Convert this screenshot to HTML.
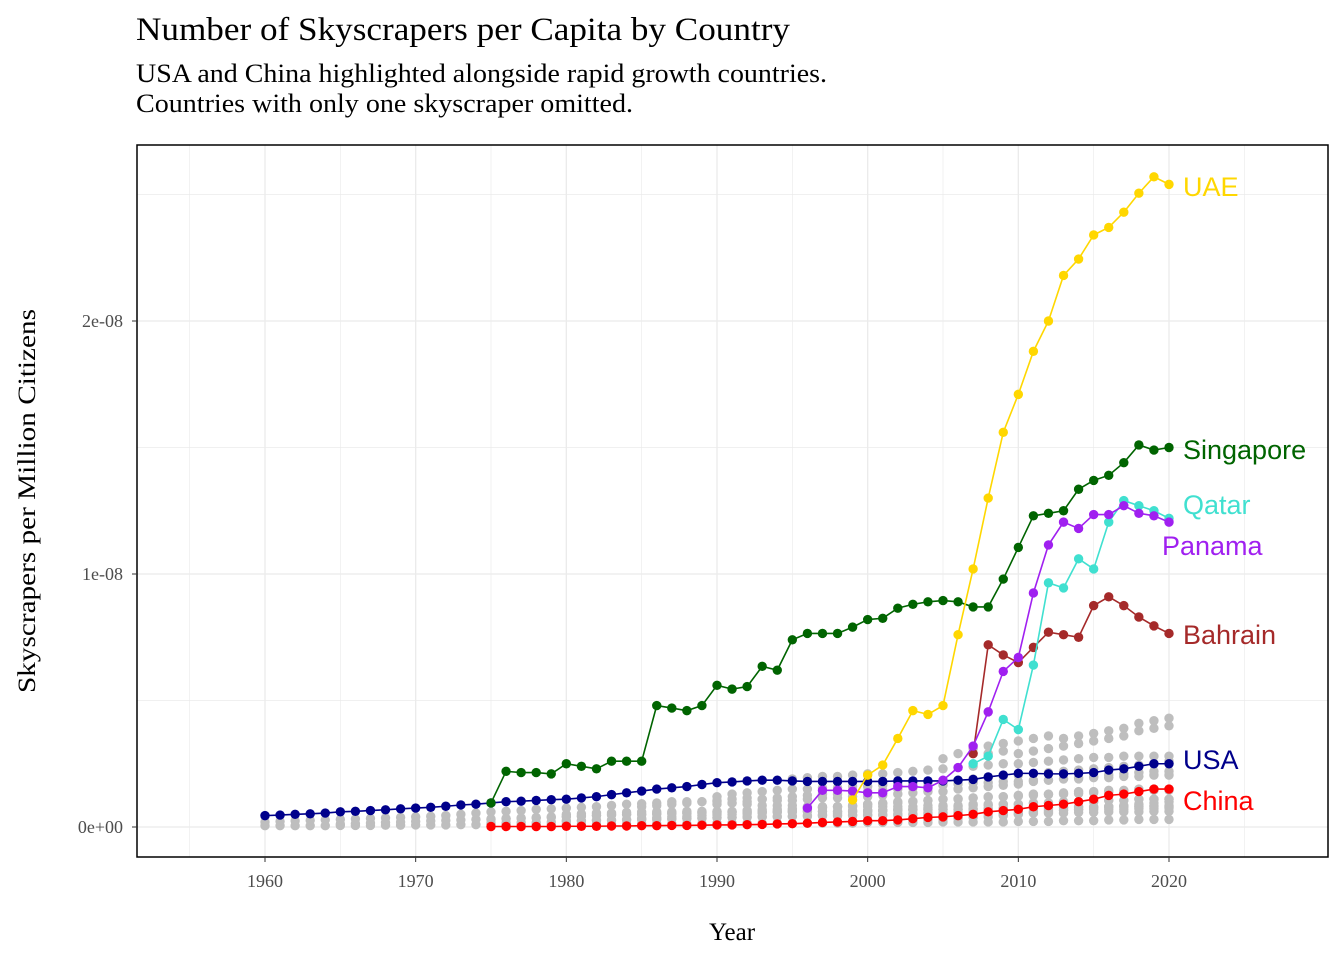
<!DOCTYPE html>
<html><head><meta charset="utf-8"><style>
body{margin:0;background:#fff;}
svg{display:block;}
</style></head><body>
<svg id="chart" width="1344" height="960" xmlns="http://www.w3.org/2000/svg">
<text x="136" y="40" font-family="Liberation Serif, serif" font-size="33" textLength="654" lengthAdjust="spacingAndGlyphs" fill="#000">Number of Skyscrapers per Capita by Country</text>
<text x="136" y="82" font-family="Liberation Serif, serif" font-size="26" textLength="691" lengthAdjust="spacingAndGlyphs" fill="#000">USA and China highlighted alongside rapid growth countries.</text>
<text x="136" y="112" font-family="Liberation Serif, serif" font-size="26" textLength="497" lengthAdjust="spacingAndGlyphs" fill="#000">Countries with only one skyscraper omitted.</text>
<g id="grid"></g>
<g id="gray"></g>
<g id="series"></g>
<rect x="137" y="145" width="1191" height="712" fill="none" stroke="#000" stroke-width="1.5"/>
<g id="axes"></g>
<text x="732" y="940" text-anchor="middle" font-family="Liberation Serif, serif" font-size="25">Year</text>
<text transform="translate(35,501) rotate(-90)" text-anchor="middle" font-family="Liberation Serif, serif" font-size="25" textLength="384" lengthAdjust="spacingAndGlyphs">Skyscrapers per Million Citizens</text>
</svg>
<script>
const xTicks=[1960,1970,1980,1990,2000,2010,2020];
const yTicks=[0,10,20];
const yTickLabels=["0e+00","1e-08","2e-08"];
const usaStart=1960;
const usa=[0.45,0.47,0.5,0.52,0.55,0.6,0.62,0.65,0.68,0.72,0.75,0.78,0.82,0.87,0.9,0.95,1.0,1.02,1.05,1.08,1.1,1.15,1.2,1.28,1.35,1.42,1.5,1.55,1.6,1.68,1.75,1.78,1.82,1.85,1.85,1.82,1.8,1.8,1.8,1.8,1.8,1.8,1.82,1.82,1.82,1.82,1.85,1.88,1.98,2.05,2.12,2.12,2.1,2.1,2.12,2.15,2.25,2.3,2.4,2.5,2.5];
const chinaStart=1975;
const china=[0.02,0.02,0.02,0.02,0.02,0.03,0.03,0.03,0.04,0.04,0.05,0.05,0.06,0.06,0.07,0.08,0.08,0.09,0.1,0.12,0.13,0.15,0.18,0.2,0.22,0.25,0.25,0.28,0.33,0.38,0.4,0.45,0.5,0.6,0.65,0.7,0.8,0.85,0.9,1.0,1.1,1.25,1.3,1.4,1.5,1.5];
const singaporeStart=1975;
const singapore=[0.95,2.2,2.15,2.15,2.1,2.5,2.4,2.3,2.6,2.6,2.6,4.8,4.7,4.6,4.8,5.6,5.45,5.55,6.35,6.2,7.4,7.65,7.65,7.65,7.9,8.2,8.25,8.65,8.8,8.9,8.95,8.9,8.7,8.7,9.8,11.05,12.3,12.4,12.5,13.35,13.7,13.9,14.4,15.1,14.9,15.0];
const uaeStart=1999;
const uae=[1.07,2.05,2.45,3.5,4.6,4.45,4.8,7.6,10.2,13.0,15.6,17.1,18.8,20.0,21.8,22.45,23.4,23.7,24.3,25.05,25.7,25.4];
const panamaStart=1996;
const panama=[0.75,1.45,1.45,1.42,1.35,1.35,1.6,1.6,1.55,1.85,2.35,3.2,4.55,6.15,6.7,9.25,11.15,12.05,11.8,12.35,12.35,12.7,12.4,12.3,12.05];
const bahrainStart=2007;
const bahrain=[2.9,7.2,6.8,6.5,7.1,7.7,7.6,7.5,8.75,9.1,8.75,8.3,7.95,7.65];
const qatarStart=2007;
const qatar=[2.5,2.8,4.25,3.85,6.4,9.65,9.45,10.6,10.2,12.05,12.9,12.7,12.5,12.2];
const grayStarts=[1960,1960,1975,1980,1985,1990,1995,1997,2005,2008,1965,1975,1985,1990,2000,1980];
const gray1=[0.05,0.05,0.05,0.05,0.05,0.06,0.06,0.06,0.07,0.07,0.08,0.08,0.08,0.09,0.09,0.1,0.1,0.1,0.1,0.1,0.12,0.12,0.12,0.12,0.12,0.13,0.13,0.13,0.13,0.13,0.15,0.15,0.15,0.15,0.15,0.15,0.15,0.15,0.15,0.15,0.18,0.18,0.18,0.18,0.18,0.2,0.2,0.2,0.2,0.2,0.22,0.22,0.22,0.25,0.25,0.25,0.28,0.28,0.3,0.3,0.3];
const gray2=[0.2,0.22,0.24,0.26,0.28,0.3,0.32,0.34,0.36,0.38,0.4,0.42,0.45,0.5,0.55,0.6,0.62,0.65,0.7,0.72,0.75,0.78,0.8,0.85,0.9,0.92,0.95,1.0,1.0,1.0,1.0,0.95,0.9,0.85,0.85,0.85,0.8,0.8,0.8,0.8,0.8,0.8,0.8,0.8,0.85,0.85,0.85,0.9,0.9,0.9,0.9,0.95,0.95,1.0,1.0,1.0,1.05,1.05,1.1,1.1,1.1];
const gray3=[0.3,0.32,0.34,0.36,0.38,0.4,0.42,0.45,0.48,0.5,0.5,0.52,0.55,0.55,0.58,0.6,0.62,0.65,0.68,0.7,0.72,0.75,0.78,0.8,0.85,0.9,0.92,0.95,1.0,1.05,1.1,1.1,1.15,1.2,1.2,1.25,1.3,1.3,1.35,1.4,1.4,1.45,1.45,1.5,1.5,1.5];
const gray4=[0.5,0.52,0.55,0.55,0.58,0.6,0.6,0.6,0.62,0.62,0.62,0.6,0.6,0.6,0.6,0.6,0.62,0.62,0.62,0.62,0.65,0.65,0.65,0.68,0.68,0.7,0.7,0.7,0.72,0.72,0.75,0.75,0.75,0.75,0.78,0.78,0.8,0.8,0.8,0.8,0.8];
const gray5=[0.8,0.85,0.9,0.95,1.0,1.05,1.1,1.15,1.1,1.05,1.05,1.1,1.15,1.15,1.2,1.2,1.25,1.3,1.35,1.4,1.4,1.5,1.55,1.6,1.65,1.7,1.8,1.85,1.9,1.95,2.0,2.05,2.1,2.15,2.2,2.2];
const gray6=[1.2,1.3,1.35,1.4,1.45,1.5,1.5,1.55,1.55,1.6,1.6,1.65,1.7,1.7,1.75,1.8,1.85,1.9,1.95,2.0,2.05,2.1,2.15,2.2,2.25,2.3,2.35,2.4,2.45,2.5,2.6];
const gray7=[1.9,1.95,2.0,2.0,2.05,2.1,2.1,2.15,2.2,2.25,2.3,2.35,2.4,2.45,2.5,2.5,2.55,2.6,2.65,2.7,2.75,2.75,2.8,2.8,2.8,2.8];
const gray8=[0.5,0.55,0.6,0.6,0.65,0.7,0.7,0.75,0.8,0.8,0.85,0.85,0.9,0.9,0.95,0.95,1.0,1.0,1.0,1.05,1.05,1.1,1.1,1.1];
const gray9=[2.7,2.9,3.1,3.2,3.3,3.4,3.5,3.6,3.5,3.6,3.7,3.8,3.9,4.1,4.2,4.3];
const gray10=[2.9,3.0,2.9,3.0,3.1,3.2,3.3,3.4,3.5,3.6,3.8,3.9,4.0];
const gray11=[0.12,0.14,0.16,0.18,0.2,0.22,0.24,0.26,0.28,0.3,0.32,0.34,0.36,0.38,0.4,0.42,0.44,0.46,0.48,0.5,0.5,0.52,0.52,0.55,0.55,0.55,0.58,0.58,0.6,0.6,0.6,0.62,0.62,0.62,0.65,0.65,0.65,0.68,0.68,0.7,0.7,0.7,0.72,0.72,0.75,0.75,0.75,0.78,0.78,0.8,0.8,0.8,0.82,0.82,0.85,0.85];
const gray12=[0.15,0.16,0.17,0.18,0.2,0.22,0.24,0.25,0.26,0.28,0.3,0.3,0.32,0.33,0.35,0.36,0.38,0.38,0.4,0.4,0.42,0.42,0.44,0.44,0.45,0.45,0.46,0.46,0.48,0.48,0.5,0.5,0.5,0.52,0.52,0.52,0.55,0.55,0.55,0.58,0.58,0.6,0.6,0.6,0.62,0.62];
const gray13=[0.35,0.38,0.4,0.42,0.45,0.48,0.5,0.52,0.55,0.6,0.65,0.7,0.75,0.8,0.85,0.9,0.95,1.0,1.02,1.05,1.1,1.12,1.15,1.18,1.2,1.22,1.25,1.28,1.3,1.32,1.35,1.38,1.4,1.42,1.45,1.45];
const gray14=[0.9,0.95,1.0,1.1,1.15,1.2,1.25,1.3,1.3,1.35,1.4,1.45,1.5,1.55,1.6,1.65,1.7,1.75,1.75,1.8,1.8,1.85,1.85,1.9,1.9,1.95,1.95,2.0,2.0,2.05,2.05];
const gray15=[0.2,0.22,0.25,0.28,0.3,0.32,0.35,0.38,0.4,0.45,0.5,0.55,0.6,0.65,0.7,0.75,0.8,0.85,0.9,0.95,1.0];
const gray16=[0.25,0.25,0.28,0.28,0.3,0.3,0.32,0.32,0.35,0.35,0.38,0.38,0.4,0.4,0.42,0.42,0.45,0.45,0.48,0.48,0.5,0.5,0.52,0.52,0.55,0.55,0.58,0.58,0.6,0.6,0.62,0.62,0.65,0.65,0.68,0.68,0.7,0.7,0.72,0.72,0.75];
const grays=[gray1,gray2,gray3,gray4,gray5,gray6,gray7,gray8,gray9,gray10,gray11,gray12,gray13,gray14,gray15,gray16];

const NS="http://www.w3.org/2000/svg";
const X=yr=>265+(yr-1960)*(1169-265)/60;
const Y=v=>827-v*25.3;
function mk(tag,attrs,parent){const e=document.createElementNS(NS,tag);for(const k in attrs)e.setAttribute(k,attrs[k]);parent.appendChild(e);return e;}
const grid=document.getElementById('grid');
for(let yr=1955;yr<=2025;yr+=5){const g=mk('line',{x1:X(yr),x2:X(yr),y1:145,y2:857,stroke:'#ebebeb','stroke-width':yr%10===0?1.3:0.7},grid);

}
for(let v=0;v<=25;v+=5){const g=mk('line',{x1:137,x2:1328,y1:Y(v),y2:Y(v),stroke:'#ebebeb','stroke-width':v%10===0?1.3:0.7},grid);

}
const gg=document.getElementById('gray');
grays.forEach((arr,i)=>{arr.forEach((v,j)=>{const c=mk('circle',{cx:X(grayStarts[i]+j),cy:Y(v),r:4.7,fill:'#bebebe'},gg);

});});
const sg=document.getElementById('series');
const series=[
 ['usa',usaStart,usa,'#00008b','USA',760],
 ['china',chinaStart,china,'#ff0000','China',801],
 ['singapore',singaporeStart,singapore,'#006400','Singapore',450],
 ['bahrain',bahrainStart,bahrain,'#a52a2a','Bahrain',635],
 ['qatar',qatarStart,qatar,'#40e0d0','Qatar',505],
 ['panama',panamaStart,panama,'#a020f0','Panama',546],
 ['uae',uaeStart,uae,'#ffd700','UAE',187]
];
series.forEach(([id,st,arr,col,lab,ly])=>{
 const pts=arr.map((v,j)=>X(st+j)+','+Y(v)).join(' ');
 const pl=mk('polyline',{points:pts,fill:'none',stroke:col,'stroke-width':1.6},sg);
 
 
 arr.forEach((v,j)=>{const c=mk('circle',{cx:X(st+j),cy:Y(v),r:4.7,fill:col},sg);
 
 });
 const lx=lab==='Panama'?1162:1183;
 const t=mk('text',{x:lx,y:ly+9,fill:col,'font-family':'Liberation Sans, sans-serif','font-size':27},sg);
 t.textContent=lab;
 
 
});
const ax=document.getElementById('axes');
xTicks.forEach(yr=>{const l=mk('line',{x1:X(yr),x2:X(yr),y1:857,y2:862,stroke:'#333'},ax);


const t=mk('text',{x:X(yr),y:887,'text-anchor':'middle','font-family':'Liberation Serif, serif','font-size':18,fill:'#4d4d4d'},ax);
t.textContent=yr;

});
yTicks.forEach((v,i)=>{const l=mk('line',{x1:132,x2:137,y1:Y(v),y2:Y(v),stroke:'#333'},ax);


const t=mk('text',{x:123,y:Y(v)+6,'text-anchor':'end','font-family':'Liberation Serif, serif','font-size':18,fill:'#4d4d4d'},ax);
t.textContent=yTickLabels[i];

});
</script>
</body></html>
